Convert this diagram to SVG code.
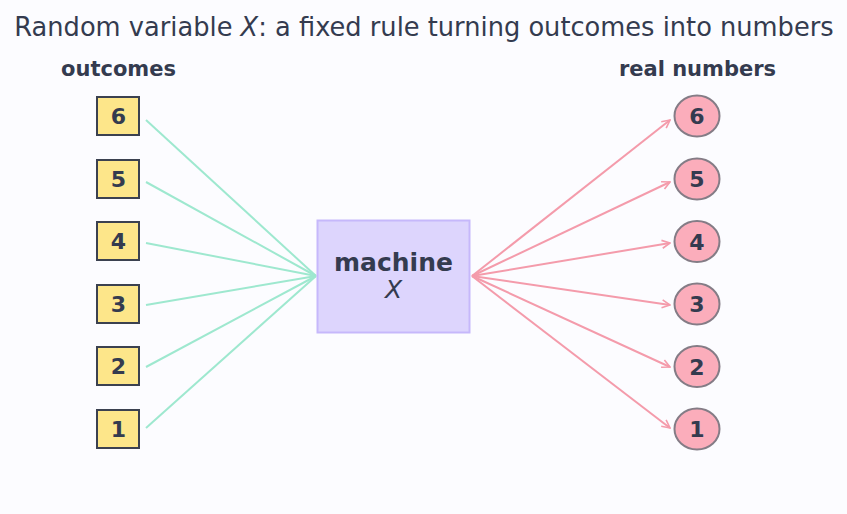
<svg xmlns="http://www.w3.org/2000/svg" width="847" height="514" viewBox="0 0 847 514">
<defs>
<style>
text{font-family:"DejaVu Sans",sans-serif;fill:#343b4f}
.t{font-size:25.7px}
.h{font-size:21px;font-weight:bold;text-anchor:middle}
.n{font-size:22px;font-weight:bold;text-anchor:middle}
.sq{fill:#fde68a;stroke:#3b4150;stroke-width:2}
.ci{fill:#fbadbb;stroke:#847c86;stroke-width:2}
.g{stroke:#9ee8cf;stroke-width:2;fill:none}
.r{stroke:#f49bab;stroke-width:2;fill:none}
</style>
<marker id="ar" viewBox="0 0 10 10" refX="9" refY="5" markerWidth="10" markerHeight="10" markerUnits="userSpaceOnUse" orient="auto">
<path d="M1,1 L9,5 L1,9" fill="none" stroke="#f49bab" stroke-width="1.6"/>
</marker>
</defs>
<rect width="847" height="514" fill="#fcfcff"/>
<text class="t" x="424" y="36" text-anchor="middle">Random variable <tspan font-style="italic">X</tspan>: a fixed rule turning outcomes into numbers</text>
<text class="h" x="118.5" y="76">outcomes</text>
<text class="h" x="697.5" y="76">real numbers</text>
<g id="connectors">
<line class="g" x1="146" y1="120" x2="316" y2="276"/>
<line class="g" x1="146" y1="182" x2="316" y2="276"/>
<line class="g" x1="146" y1="243" x2="316" y2="276"/>
<line class="g" x1="146" y1="305" x2="316" y2="276"/>
<line class="g" x1="146" y1="367" x2="316" y2="276"/>
<line class="g" x1="146" y1="428" x2="316" y2="276"/>
<line class="r" x1="472" y1="276" x2="670" y2="120" marker-end="url(#ar)"/>
<line class="r" x1="472" y1="276" x2="670" y2="182" marker-end="url(#ar)"/>
<line class="r" x1="472" y1="276" x2="670" y2="243" marker-end="url(#ar)"/>
<line class="r" x1="472" y1="276" x2="670" y2="305" marker-end="url(#ar)"/>
<line class="r" x1="472" y1="276" x2="670" y2="367" marker-end="url(#ar)"/>
<line class="r" x1="472" y1="276" x2="670" y2="428" marker-end="url(#ar)"/>
</g>
<g id="machine">
<rect x="317.5" y="220.5" width="152" height="112" fill="#ddd5fd" stroke="#c6b8fb" stroke-width="2"/>
<text x="393.5" y="271" font-size="25" font-weight="bold" text-anchor="middle">machine</text>
<text x="393.5" y="298" font-size="25" font-style="italic" text-anchor="middle">X</text>
</g>
<g id="o6"><rect class="sq" x="97" y="97" width="42" height="38"/><text class="n" x="118.5" y="124">6</text></g>
<g id="o5"><rect class="sq" x="97" y="160" width="42" height="38"/><text class="n" x="118.5" y="187">5</text></g>
<g id="o4"><rect class="sq" x="97" y="222" width="42" height="38"/><text class="n" x="118.5" y="249">4</text></g>
<g id="o3"><rect class="sq" x="97" y="285" width="42" height="38"/><text class="n" x="118.5" y="312">3</text></g>
<g id="o2"><rect class="sq" x="97" y="347" width="42" height="38"/><text class="n" x="118.5" y="374">2</text></g>
<g id="o1"><rect class="sq" x="97" y="410" width="42" height="38"/><text class="n" x="118.5" y="437">1</text></g>
<g id="r6"><ellipse class="ci" cx="697" cy="116" rx="22.5" ry="20.5"/><text class="n" x="697" y="124">6</text></g>
<g id="r5"><ellipse class="ci" cx="697" cy="179" rx="22.5" ry="20.5"/><text class="n" x="697" y="187">5</text></g>
<g id="r4"><ellipse class="ci" cx="697" cy="241.5" rx="22.5" ry="20.5"/><text class="n" x="697" y="249.5">4</text></g>
<g id="r3"><ellipse class="ci" cx="697" cy="304" rx="22.5" ry="20.5"/><text class="n" x="697" y="312">3</text></g>
<g id="r2"><ellipse class="ci" cx="697" cy="366.5" rx="22.5" ry="20.5"/><text class="n" x="697" y="374.5">2</text></g>
<g id="r1"><ellipse class="ci" cx="697" cy="429" rx="22.5" ry="20.5"/><text class="n" x="697" y="437">1</text></g>
</svg>
